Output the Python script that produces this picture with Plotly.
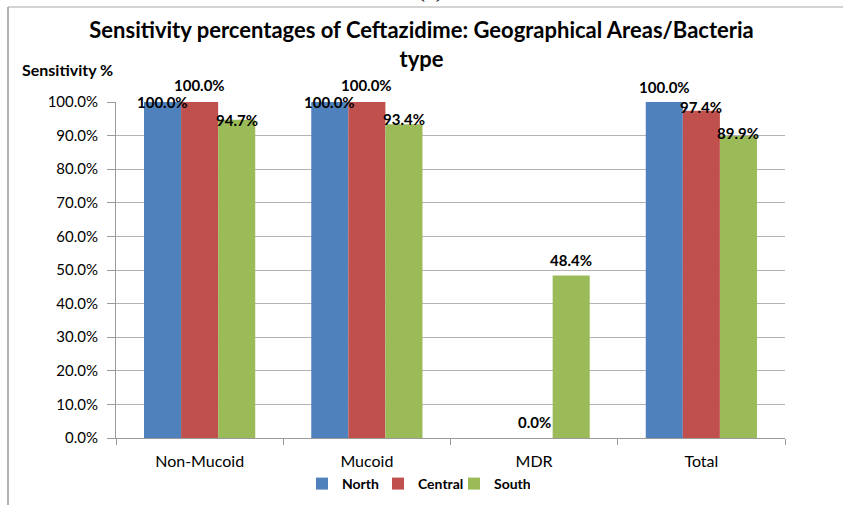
import plotly.graph_objects as go

# Sensitivity (%) to Ceftazidime by bacteria type and region
categories = ["Non-Mucoid", "Mucoid", "MDR", "Total"]
north = [100.0, 100.0, 0.0, 100.0]
central = [100.0, 100.0, 0.0, 97.4]
south = [94.7, 93.4, 48.4, 89.9]

series_names = ["North", "Central", "South"]
series_values = [north, central, south]
colors = ["#4F81BD", "#C0504D", "#9BBB59"]

# Vertical nudge (px) of each value label, per series and category
label_lift = [
    [0, 0, None, 15],
    [17, 17, 16, 4],
    [0, 5, 15, 3],
]
bar_step = 37  # horizontal distance between bar centres within a group (px)

W, H = 843, 505
L, R, T, B = 116, 58, 102, 67
pw, ph = W - L - R, H - T - B


def px_to_paper_x(px):
    return (px - L) / pw


def px_to_paper_y(py):
    return (H - B - py) / ph


fig = go.Figure()
for name, vals, col in zip(series_names, series_values, colors):
    fig.add_trace(go.Bar(x=categories, y=vals, name=name,
                         marker=dict(color=col, line=dict(width=0))))

annotations = []
for si, vals in enumerate(series_values):
    for ci, v in enumerate(vals):
        lift = label_lift[si][ci]
        if lift is None:
            continue
        annotations.append(dict(
            x=categories[ci], y=v, xref="x", yref="y",
            text=f"{v:.1f}%", showarrow=False,
            xshift=(si - 1) * bar_step, yshift=lift,
            xanchor="center", yanchor="middle",
            font=dict(family="Lato", size=15, color="#000000", weight="bold"),
        ))

# axis caption
annotations.append(dict(
    x=px_to_paper_x(67), y=px_to_paper_y(70), xref="paper", yref="paper",
    xanchor="center", yanchor="middle",
    text="<b>Sensitivity %</b>", showarrow=False,
    font=dict(family="Lato", size=16, color="#000000"),
))
# panel tag above the frame
annotations.append(dict(
    x=px_to_paper_x(430), y=px_to_paper_y(-11), xref="paper", yref="paper",
    xanchor="center", yanchor="middle",
    text="(c)", showarrow=False,
    font=dict(family="Liberation Serif", size=24, color="#000000"),
))

shapes = [
    dict(type="line", xref="paper", yref="paper",
         x0=px_to_paper_x(8), x1=px_to_paper_x(W + 5),
         y0=px_to_paper_y(7), y1=px_to_paper_y(7),
         line=dict(color="#c4c4c4", width=1.5)),
    dict(type="line", xref="paper", yref="paper",
         x0=px_to_paper_x(8), x1=px_to_paper_x(8),
         y0=px_to_paper_y(7), y1=px_to_paper_y(H + 5),
         line=dict(color="#9a9a9a", width=1.5)),
]

fig.update_layout(
    width=W, height=H,
    margin=dict(l=L, r=R, t=T, b=B, autoexpand=False),
    paper_bgcolor="white", plot_bgcolor="white",
    barmode="group", bargap=0.335, bargroupgap=0,
    title=dict(
        text="Sensitivity percentages of Ceftazidime: Geographical Areas/Bacteria<br>type",
        x=0.5, xanchor="center", xref="container",
        y=1 - 38 / H, yanchor="top", yref="container",
        font=dict(family="Lato", size=22, color="#000000", weight="bold"),
    ),
    font=dict(family="Lato", size=14, color="#000000"),
    showlegend=True,
    legend=dict(
        orientation="h", xref="container", yref="container",
        x=302 / W, xanchor="left", y=1 - 484 / H, yanchor="middle",
        font=dict(family="Lato", size=14, color="#000000", weight="bold"),
        itemwidth=30, tracegroupgap=0, bgcolor="rgba(0,0,0,0)",
        entrywidth=31, entrywidthmode="pixels",
    ),
    annotations=annotations,
    shapes=shapes,
)

fig.update_yaxes(
    range=[0, 100], dtick=10, tickformat=".1f", ticksuffix="%",
    showgrid=True, gridcolor="#b3b3b3", gridwidth=1,
    showline=True, linecolor="#9a9a9a", linewidth=1,
    ticks="outside", ticklen=8, tickcolor="#9a9a9a",
    ticklabelstandoff=6, automargin=False,
    zeroline=False, tickfont=dict(family="Lato", size=15, color="#000000"),
)
fig.update_xaxes(
    showline=True, linecolor="#9a9a9a", linewidth=1,
    ticks="outside", tickson="boundaries", ticklen=6, tickcolor="#9a9a9a",
    ticklabelstandoff=9, automargin=False,
    showgrid=False, tickfont=dict(family="Lato", size=16, color="#000000"),
)

fig.write_html("out.html")
